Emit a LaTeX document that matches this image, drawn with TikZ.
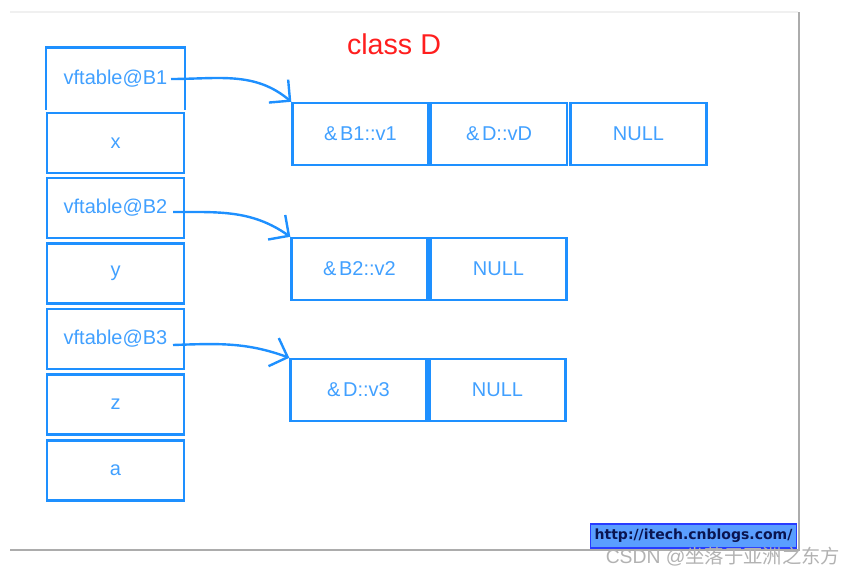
\documentclass[tikz,border=0pt]{standalone}
\usepackage{fontspec}
\setmainfont{Liberation Sans}
\newfontfamily\wmfont{DejaVu Sans}
\newfontfamily\cjkfont{Noto Sans CJK SC}
\usepackage{xcolor}
\usetikzlibrary{arrows.meta, positioning}
\definecolor{boxblue}{RGB}{30,144,255}
\definecolor{txtblue}{RGB}{65,160,255}
\definecolor{wmfill}{RGB}{90,158,255}
\definecolor{wmdraw}{RGB}{40,60,255}
\definecolor{wmtext}{RGB}{10,20,80}

\begin{document}
\begin{tikzpicture}[x=0.75pt, y=-0.75pt,
  cell/.style={draw=boxblue, line width=1.8pt, text=txtblue,
    font=\fontsize{15}{17}\selectfont, inner sep=0pt,
    minimum width=102.75pt, minimum height=45pt},
  slot/.style={cell, minimum width=102pt, minimum height=46.5pt},
  ptr/.style={boxblue, line width=1.8pt, -{Straight Barb[scale=2.2]}}]
\useasboundingbox (0,0) rectangle (855,578);

% card edges
\draw[gray!12, line width=1.2pt] (10,12) -- (798,12);
\draw[gray!65, line width=2.2pt] (799,12) -- (799,550);
\draw[gray!65, line width=2.2pt] (10,550) -- (800,550);

\node[text={rgb,255:red,255;green,30;blue,30}, font=\fontsize{21.5}{24}\selectfont] (title) at (394,44) {class D};

% object layout
\node[cell, draw=none] (vt1) at (115.5,78.5) {vftable@B1};
\draw[boxblue, line width=1.8pt] (vt1.south west) -- (vt1.north west) -- (vt1.north east) -- (vt1.south east);
\node[cell] (mx) at (115.5,143) {x};
\node[cell] (vt2) at (115.5,208) {vftable@B2};
\node[cell] (my) at (115.5,273.5) {y};
\node[cell] (vt3) at (115.5,339) {vftable@B3};
\node[cell] (mz) at (115.5,404.5) {z};
\node[cell] (ma) at (115.5,470.5) {a};

% vtables
\node[slot] (t11) at (360.5,134) {\&\hspace{2pt}B1::v1\hspace{10pt}};
\node[slot] (t12) at (499,134) {\&\hspace{2pt}D::vD\hspace{4pt}};
\node[slot] (t13) at (638.5,134) {NULL};

\node[slot] (t21) at (359.5,269) {\&\hspace{2pt}B2::v2\hspace{12pt}};
\node[slot] (t22) at (498.5,269) {NULL};

\node[slot] (t31) at (358.5,390) {\&\hspace{2pt}D::v3\hspace{12pt}};
\node[slot] (t32) at (497.5,390) {NULL};

% pointers
\coordinate (s1) at (171,79);
\coordinate (s2) at (173,212);
\coordinate (s3) at (173,345);
\draw[ptr] (s1) to[out=0, in=140] (t11.north west);
\draw[ptr] (s2) to[out=0, in=145] (t21.north west);
\draw[ptr] (s3) to[out=2, in=160] (t31.north west);

% watermarks
\node[fill=wmfill, draw=wmdraw, line width=0.8pt, minimum width=155pt, minimum height=18pt, inner sep=0pt,
  text=wmtext, font=\wmfont\bfseries\fontsize{10.5}{12}\selectfont] (site) at (693.5,536) {http://itech.cnblogs.com/};
\node[text=gray!60, font=\fontsize{14.5}{17}\selectfont] (csdn) at (723,557) {CSDN @{\cjkfont 坐落于亚洲之东方}};
\end{tikzpicture}
\end{document}
